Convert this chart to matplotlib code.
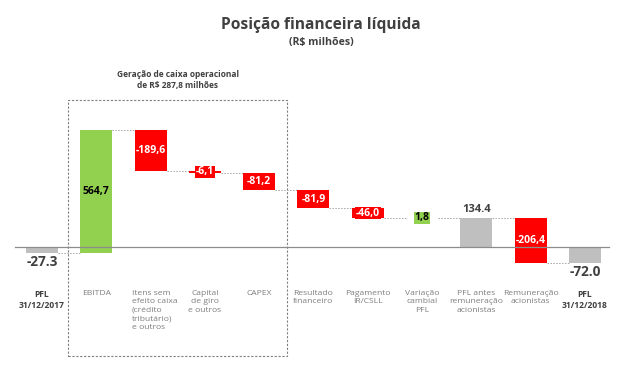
import matplotlib.pyplot as plt
from matplotlib.patches import Rectangle

# Waterfall: net financial position (R$ millions)
categories = ['PFL\n31/12/2017', 'EBITDA', 'Itens sem\nefeito caixa\n(crédito\ntributário)\ne outros',
              'Capital\nde giro\ne outros', 'CAPEX', 'Resultado\nfinanceiro', 'Pagamento\nIR/CSLL',
              'Variação\ncambial\nPFL', 'PFL antes\nremuneração\nacionistas', 'Remuneração\nacionistas',
              'PFL\n31/12/2018']
values = [-27.3, 564.7, -189.6, -6.1, -81.2, -81.9, -46.0, 1.8, 134.4, -206.4, -72.0]
kinds = ['total', 'delta', 'delta', 'delta', 'delta', 'delta', 'delta', 'delta', 'total', 'delta', 'total']
value_labels = ['-27.3', '564,7', '-189,6', '-6,1', '-81,2', '-81,9', '-46,0', '1,8', '134.4', '-206,4', '-72.0']

GREEN = '#92D050'
RED = '#FF0000'
GREY = '#BFBFBF'
TXT = '#404040'

plt.rcParams['font.family'] = ['Open Sans', 'DejaVu Sans']

fig = plt.figure(figsize=(6.3, 3.72), dpi=100)
ax = fig.add_axes([0, 0, 1, 1])
ax.set_xlim(-0.773, 10.83)
ax.set_ylim(-573, 1133)
ax.axis('off')

w = 0.59
running = 0.0
bars = []
for i, (v, k) in enumerate(zip(values, kinds)):
    if k == 'total':
        lo, hi = min(0, v), max(0, v)
        running = v
        color = GREY
    else:
        start = running
        running = running + v
        lo, hi = min(start, running), max(start, running)
        color = GREEN if v > 0 else RED
    ax.bar(i, hi - lo, bottom=lo, width=w, color=color, zorder=3)
    bars.append((lo, hi, running))

# connectors
for i in range(len(values) - 1):
    level = bars[i][2]
    ax.plot([i + w / 2, i + 1 - w / 2], [level, level], color='#A6A6A6', lw=0.7,
            ls=(0, (1.5, 1.5)), zorder=2)

# zero line
ax.plot([-0.5, 10.45], [0, 0], color='#8C8C8C', lw=0.9, zorder=4)

# value labels
for i, (v, k) in enumerate(zip(values, kinds)):
    lo, hi, _ = bars[i]
    mid = (lo + hi) / 2
    if k == 'total':
        if v < 0:
            ax.text(i, lo - 10, value_labels[i], ha='center', va='top', fontsize=9.8,
                    fontweight='bold', color=TXT)
        else:
            ax.text(i, hi + 12, value_labels[i], ha='center', va='bottom', fontsize=8,
                    fontweight='bold', color=TXT)
    else:
        tc = 'black' if v > 0 else 'white'
        box = None
        if hi - lo < 60:
            box = dict(boxstyle='square,pad=0.08', fc=GREEN if v > 0 else RED, ec='none')
        ax.text(i, mid, value_labels[i], ha='center', va='center', fontsize=7.5,
                fontweight='bold', color=tc, zorder=5, bbox=box)

# category labels
for i, c in enumerate(categories):
    bold = c.startswith('PFL\n')
    if i == 2:
        ax.text(i - 0.34, -195, c, ha='left', va='top', fontsize=6.1, color='#7F7F7F',
                linespacing=1.3)
    else:
        ax.text(i, -195, c, ha='center', va='top', fontsize=6.1,
                fontweight='bold' if bold else 'normal',
                color=TXT if bold else '#7F7F7F', linespacing=1.3, multialignment='center')

# operational cash generation box
ax.add_patch(Rectangle((0.479, -500), 4.03, 1174, fill=False, ec='#7F7F7F', lw=0.8,
                       ls=(0, (2, 1.5)), zorder=1))
ax.text(2.5, 720, 'Geração de caixa operacional\nde R$ 287,8 milhões', ha='center',
        va='bottom', fontsize=6, fontweight='bold', color=TXT, linespacing=1.25)

fig.text(0.51, 0.933, 'Posição financeira líquida', ha='center', va='center', fontsize=11.2,
         fontweight='bold', color=TXT)
fig.text(0.51, 0.887, '(R$ milhões)', ha='center', va='center', fontsize=7.6,
         fontweight='bold', color=TXT)

fig.savefig('out.png', dpi=100)
